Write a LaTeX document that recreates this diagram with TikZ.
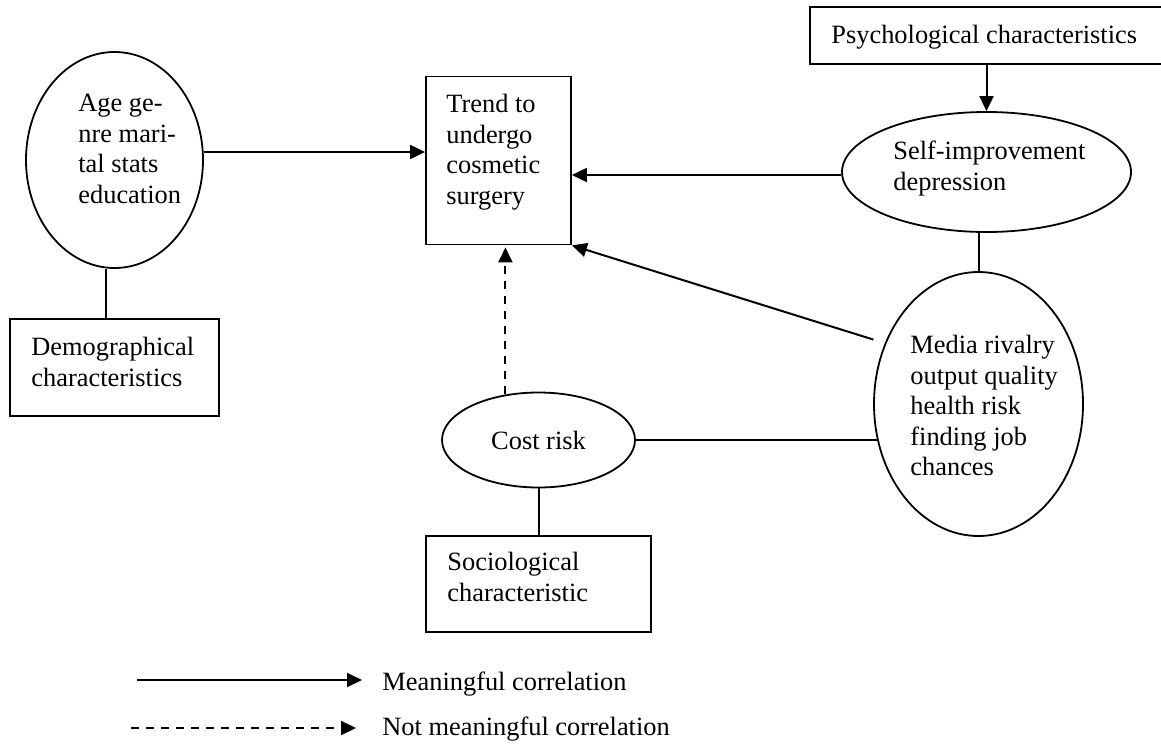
\documentclass[tikz,border=0pt]{standalone}
\usepackage{fontspec}
\setmainfont{Liberation Serif}
\usetikzlibrary{arrows.meta,shapes.geometric}

\tikzset{
  every node/.style={font=\fontsize{13.2pt}{15.25pt}\selectfont},
  box/.style={draw, line width=0.9pt, rectangle, inner sep=0pt},
  oval/.style={draw, line width=0.9pt, ellipse, inner sep=0pt},
  txt/.style={align=left, inner sep=0pt, anchor=north west},
  arr/.style={line width=1pt, -{Triangle[length=7.5pt,width=7pt]}},
  dasharr/.style={arr, dash pattern=on 4pt off 3.5pt},
  link/.style={line width=1pt}
}

\begin{document}
\begin{tikzpicture}[x=0.5pt,y=-0.5pt]
    \clip (0,0) rectangle (1161,744);
    \fill[white] (0,0) rectangle (1161,744);

    % Shapes
    \node[oval, minimum width=88.5pt, minimum height=108pt] (age) at (114.5,160) {};
    \node[box, minimum width=72.5pt, minimum height=84pt] (trend) at (498.5,160.5) {};
    \node[box, minimum width=190pt, minimum height=28.5pt] (psych) at (1000,35.5) {};
    \node[oval, minimum width=144.5pt, minimum height=60pt] (self) at (986.5,172) {};
    \node[oval, minimum width=104.5pt, minimum height=132pt] (media) at (978.5,404) {};
    \node[oval, minimum width=96.5pt, minimum height=47.5pt] (cost) at (538.5,440) {Cost risk};
    \node[box, minimum width=104.5pt, minimum height=48.5pt] (demo) at (114.5,367.5) {};
    \node[box, minimum width=112.5pt, minimum height=48pt] (socio) at (538.5,584) {};

    % Texts
    \node[txt] (agetxt) at (78,94) {Age ge-\\nre mari-\\tal stats\\education};
    \node[txt] (trendtxt) at (446,94) {Trend to\\undergo\\cosmetic\\surgery};
    \node[txt] (psychtxt) at (831,25) {Psychological characteristics};
    \node[txt] (selftxt) at (893,141) {Self-improvement\\depression};
    \node[txt] (mediatxt) at (910,335) {Media rivalry\\output quality\\health risk\\finding job\\chances};
    \node[txt] (demotxt) at (31,337) {Demographical\\characteristics};
    \node[txt] (sociotxt) at (447,552) {Sociological\\characteristic};

    % Correlations
    \draw[arr] ([yshift=4pt]age.east) -- ([yshift=4pt]age.east -| trend.west);
    \draw[arr] (self.north |- psych.south) -- (self.north);
    \draw[arr] ([yshift=-1.5pt]self.west) -- ([yshift=-1.5pt]self.west -| trend.east);
    \draw[arr, shorten <=6pt] (media.147) -- (trend.south east);
    \draw[dasharr, shorten >=1pt] (cost.126) -- (cost.126 |- trend.south);

    % Plain links
    \draw[link] (media.north |- self.south) -- (media.north);
    \draw[link] (cost.east) -- (cost.east -| media.200);
    \draw[link] (cost.south) -- (socio.north);
    \draw[link] ([xshift=-4.25pt]age.south) -- ([xshift=-4.25pt]demo.north);

    % Legend
    \coordinate (solidA) at (137,680);
    \coordinate (solidB) at (362,680);
    \coordinate (dashA) at (131,728);
    \coordinate (dashB) at (356,728);
    \draw[arr] (solidA) -- (solidB);
    \draw[dasharr] (dashA) -- (dashB);
    \node[anchor=base west, inner sep=0pt] (solidlbl) at (382,690) {Meaningful correlation};
    \node[anchor=base west, inner sep=0pt] (dashlbl) at (382,735) {Not meaningful correlation};
  \end{tikzpicture}
\end{document}
